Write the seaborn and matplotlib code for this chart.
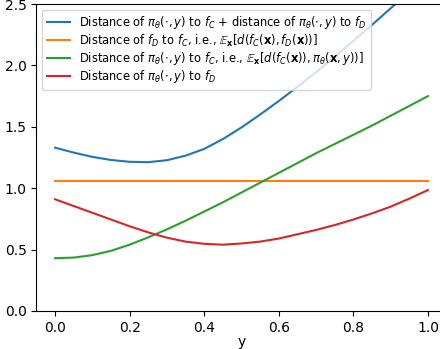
import numpy as np
import pandas as pd
import seaborn as sns
import matplotlib.pyplot as plt

# y values along the x axis
y_vals = [0.0, 0.05, 0.1, 0.15, 0.2, 0.25, 0.3, 0.35, 0.4, 0.45, 0.5,
          0.55, 0.6, 0.65, 0.7, 0.75, 0.8, 0.85, 0.9, 0.95, 1.0]

# curves
sum_dist = [1.33, 1.29, 1.255, 1.23, 1.215, 1.212, 1.228, 1.265, 1.32, 1.40, 1.495,
            1.60, 1.71, 1.825, 1.945, 2.07, 2.20, 2.33, 2.465, 2.60, 2.74]
fd_to_fc = [1.06] * 21
pi_to_fc = [0.43, 0.435, 0.455, 0.49, 0.54, 0.60, 0.665, 0.735, 0.81, 0.885, 0.965,
            1.045, 1.125, 1.205, 1.285, 1.36, 1.435, 1.51, 1.59, 1.67, 1.75]
pi_to_fd = [0.91, 0.855, 0.80, 0.745, 0.69, 0.64, 0.597, 0.565, 0.547, 0.54, 0.55,
            0.565, 0.59, 0.625, 0.66, 0.70, 0.745, 0.795, 0.85, 0.915, 0.985]

labels = [
    r"Distance of $\pi_\theta(\cdot, y)$ to $f_C$ + distance of $\pi_\theta(\cdot, y)$ to $f_D$",
    r"Distance of $f_D$ to $f_C$, i.e., $\mathbb{E}_{\mathbf{x}}[d(f_C(\mathbf{x}), f_D(\mathbf{x}))]$",
    r"Distance of $\pi_\theta(\cdot, y)$ to $f_C$, i.e., $\mathbb{E}_{\mathbf{x}}[d(f_C(\mathbf{x})), \pi_\theta(\mathbf{x}, y))]$",
    r"Distance of $\pi_\theta(\cdot, y)$ to $f_D$",
]
series = [sum_dist, fd_to_fc, pi_to_fc, pi_to_fd]

rows = []
for lab, vals in zip(labels, series):
    for x, v in zip(y_vals, vals):
        rows.append({"y": x, "value": v, "curve": lab})
df = pd.DataFrame(rows)

fig = plt.figure(figsize=(4.4, 3.49), dpi=100)
# axes runs past the right edge, like the cropped original
ax = fig.add_axes([36.4 / 440, 38 / 349, 410.2 / 440, 307 / 349])

sns.lineplot(data=df, x="y", y="value", hue="curve", hue_order=labels,
             palette=["C0", "C1", "C2", "C3"], ax=ax)

ax.set_ylim(0, 2.5)
ax.set_xlim(-0.05, 1.05)
ax.set_ylabel("")
ax.set_xlabel("y", labelpad=0)
ax.legend(loc="upper left", title=None, fontsize=8.3, labelspacing=0.1)

plt.savefig("out.png", dpi=100)
